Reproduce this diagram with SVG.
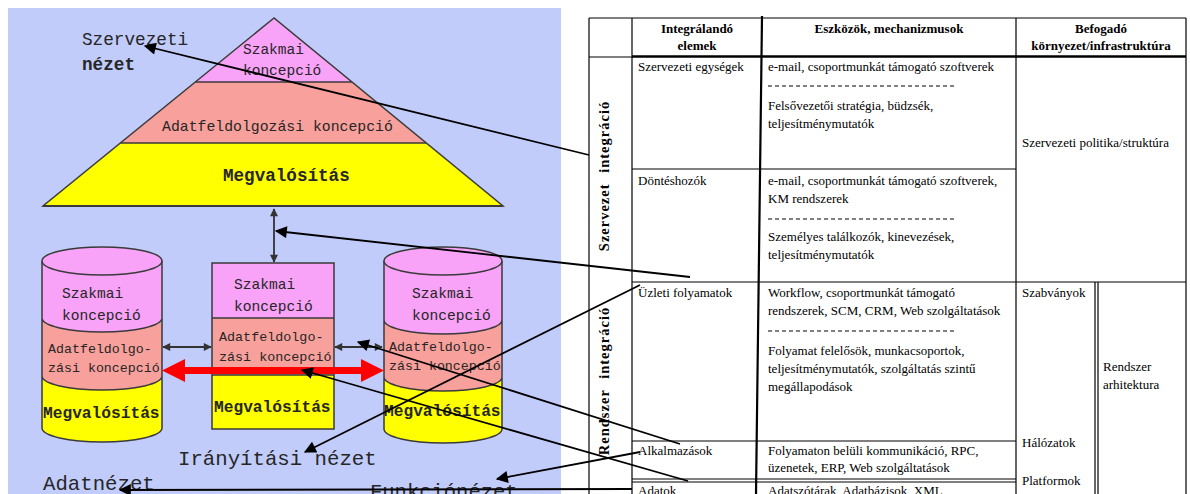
<svg xmlns="http://www.w3.org/2000/svg" width="1190" height="494" viewBox="0 0 1190 494">
  <style>
    .mono { font-family: "Liberation Mono", "DejaVu Sans Mono", monospace; fill: #262626; }
    .serif { font-family: "Liberation Serif", "Times New Roman", serif; font-size: 13px; fill: #000; }
    .hdr { font-weight: bold; text-anchor: middle; }
    .side { font-weight: bold; font-size: 14.5px; letter-spacing: 1px; word-spacing: 6px; text-anchor: middle; }
    .edge { stroke: #3a3a3a; stroke-width: 1.5; fill: none; }
    .pink { fill: #f8a2f8; }
    .salmon { fill: #f8a09b; }
    .yellow { fill: #ffff00; }
    .grid { stroke: #000; stroke-width: 1.2; fill: none; }
    .dash { stroke: #000; stroke-width: 1; stroke-dasharray: 4 3; }
    .link { stroke: #000; stroke-width: 1.8; fill: none; marker-end: url(#head); }
    .dbl { stroke: #333; stroke-width: 1.8; fill: none; marker-start: url(#tip); marker-end: url(#tip); }
  </style>
  <defs>
    <marker id="head" viewBox="0 0 10 10" refX="9" refY="5" markerUnits="userSpaceOnUse" markerWidth="16" markerHeight="12" orient="auto">
      <path d="M0,0 L10,5 L0,10 z" fill="#000"/>
    </marker>
    <marker id="tip" viewBox="0 0 10 10" refX="9" refY="5" markerUnits="userSpaceOnUse" markerWidth="9" markerHeight="8" orient="auto-start-reverse">
      <path d="M0,0 L10,5 L0,10 z" fill="#333"/>
    </marker>
  </defs>

  <rect x="0" y="0" width="1190" height="494" fill="#fff"/>
  <!-- left model panel -->
  <rect x="8" y="8" width="553" height="486" fill="#c1ccfa"/>

  <!-- table -->
  <g id="table">
    <g class="grid">
      <line x1="589" y1="18" x2="1186" y2="18"/>
      <line x1="589" y1="18" x2="589" y2="494"/>
      <line x1="632" y1="18" x2="632" y2="494"/>
      <line x1="1016" y1="18" x2="1016" y2="494"/>
      <line x1="1186" y1="18" x2="1186" y2="494"/>
      <line x1="589" y1="57" x2="632" y2="57"/>
      <line x1="632" y1="169" x2="1016" y2="169"/>
      <line x1="632" y1="282" x2="1186" y2="282"/>
      <line x1="632" y1="441" x2="1016" y2="441"/>
      <line x1="632" y1="479" x2="1016" y2="479"/>
      <line x1="632" y1="482" x2="1016" y2="482"/>
      <line x1="1095" y1="282" x2="1095" y2="494"/>
      <line x1="1098" y1="282" x2="1098" y2="494"/>
    </g>
    <line x1="632" y1="56.5" x2="1186" y2="56.5" stroke="#000" stroke-width="2.6"/>
    <line x1="762" y1="16" x2="756" y2="494" stroke="#000" stroke-width="2.2"/>

    <g class="serif">
      <text class="hdr" x="697" y="33">Integrálandó</text>
      <text class="hdr" x="697" y="50">elemek</text>
      <text class="hdr" x="889" y="33">Eszközök, mechanizmusok</text>
      <text class="hdr" x="1101" y="33">Befogadó</text>
      <text class="hdr" x="1101" y="50">környezet/infrastruktúra</text>

      <text class="side" transform="translate(609,176) rotate(-90)">Szervezet integráció</text>
      <text class="side" transform="translate(609,381) rotate(-90)">Rendszer integráció</text>

      <text x="638" y="71">Szervezeti egységek</text>
      <text x="768" y="71">e-mail, csoportmunkát támogató szoftverek</text>
      <text x="768" y="110">Felsővezetői stratégia, büdzsék,</text>
      <text x="768" y="128">teljesítménymutatók</text>
      <text x="1022" y="147">Szervezeti politika/struktúra</text>

      <text x="638" y="185">Döntéshozók</text>
      <text x="768" y="185">e-mail, csoportmunkát támogató szoftverek,</text>
      <text x="768" y="203">KM rendszerek</text>
      <text x="768" y="241">Személyes találkozók, kinevezések,</text>
      <text x="768" y="259">teljesítménymutatók</text>

      <text x="638" y="297">Üzleti folyamatok</text>
      <text x="768" y="297">Workflow, csoportmunkát támogató</text>
      <text x="768" y="315">rendszerek, SCM, CRM, Web szolgáltatások</text>
      <text x="768" y="355">Folyamat felelősök, munkacsoportok,</text>
      <text x="768" y="373">teljesítménymutatók, szolgáltatás szintű</text>
      <text x="768" y="391">megállapodások</text>
      <text x="1022" y="297">Szabványok</text>
      <text x="1103" y="371">Rendszer</text>
      <text x="1103" y="389">arhitektura</text>
      <text x="1022" y="447">Hálózatok</text>
      <text x="1022" y="485">Platformok</text>

      <text x="638" y="455">Alkalmazások</text>
      <text x="768" y="455">Folyamaton belüli kommunikáció, RPC,</text>
      <text x="768" y="472">üzenetek, ERP, Web szolgáltatások</text>

      <text x="638" y="495">Adatok</text>
      <text x="768" y="495">Adatszótárak, Adatbázisok, XML,</text>
    </g>
    <line class="dash" x1="768" y1="86" x2="954" y2="86"/>
    <line class="dash" x1="768" y1="219" x2="954" y2="219"/>
    <line class="dash" x1="768" y1="331" x2="954" y2="331"/>
  </g>

  <!-- organisational pyramid -->
  <g id="pyramid">
    <polygon class="yellow" points="274,18 43,206 503,206"/>
    <polygon class="salmon" points="274,18 120.4,143 426,143"/>
    <polygon class="pink" points="274,18 195.3,82 352,82"/>
    <polygon class="edge" points="274,18 43,206 503,206"/>
    <line class="edge" x1="195.3" y1="82" x2="352" y2="82"/>
    <line class="edge" x1="120.4" y1="143" x2="426" y2="143"/>
    <line x1="43" y1="206" x2="503" y2="206" stroke="#3a3a3a" stroke-width="2.2"/>
    <text class="mono" x="243" y="54" font-size="14.5">Szakmai</text>
    <text class="mono" x="243" y="75" font-size="14.5">koncepció</text>
    <text class="mono" x="162" y="131" font-size="14.8">Adatfeldolgozási koncepció</text>
    <text class="mono" x="223" y="181" font-size="17.6" font-weight="bold">Megvalósítás</text>
  </g>

  <!-- left cylinder -->
  <g id="cyl-left">
    <path class="yellow" d="M42,261 L42,428 A60,14 0 0 0 162,428 L162,261 Z"/>
    <path class="salmon" d="M42,261 L42,376 A60,14 0 0 0 162,376 L162,261 Z"/>
    <path class="pink" d="M42,261 L42,318 A60,14 0 0 0 162,318 L162,261 Z"/>
    <path class="edge" d="M42,318 A60,14 0 0 0 162,318 M42,376 A60,14 0 0 0 162,376 M42,261 L42,428 A60,14 0 0 0 162,428 L162,261"/>
    <ellipse class="pink" cx="102" cy="261" rx="60" ry="14"/>
    <ellipse class="edge" cx="102" cy="261" rx="60" ry="14"/>
    <text class="mono" x="62" y="298" font-size="14.6">Szakmai</text>
    <text class="mono" x="62" y="320" font-size="14.6">koncepció</text>
    <text class="mono" x="48" y="353" font-size="13.3">Adatfeldolgo-</text>
    <text class="mono" x="48" y="372" font-size="13.3">zási koncepció</text>
    <text class="mono" x="43" y="418" font-size="16.2" font-weight="bold">Megvalósítás</text>
  </g>

  <!-- middle block -->
  <g id="box-mid">
    <rect class="yellow" x="212" y="375" width="122" height="54"/>
    <rect class="salmon" x="212" y="318" width="122" height="57"/>
    <rect class="pink" x="212" y="263" width="122" height="55"/>
    <rect class="edge" x="212" y="263" width="122" height="166"/>
    <line class="edge" x1="212" y1="318" x2="334" y2="318"/>
    <line class="edge" x1="212" y1="375" x2="334" y2="375"/>
    <text class="mono" x="234" y="289" font-size="14.6">Szakmai</text>
    <text class="mono" x="234" y="311" font-size="14.6">koncepció</text>
    <text class="mono" x="219" y="341" font-size="13.4">Adatfeldolgo-</text>
    <text class="mono" x="219" y="361" font-size="13.4">zási koncepció</text>
    <text class="mono" x="214" y="412" font-size="16.2" font-weight="bold">Megvalósítás</text>
  </g>

  <!-- right cylinder -->
  <g id="cyl-right">
    <path class="yellow" d="M384,261 L384,429 A59,14 0 0 0 502,429 L502,261 Z"/>
    <path class="salmon" d="M384,261 L384,377 A59,14 0 0 0 502,377 L502,261 Z"/>
    <path class="pink" d="M384,261 L384,320 A59,14 0 0 0 502,320 L502,261 Z"/>
    <path class="edge" d="M384,320 A59,14 0 0 0 502,320 M384,377 A59,14 0 0 0 502,377 M384,261 L384,429 A59,14 0 0 0 502,429 L502,261"/>
    <ellipse class="pink" cx="443" cy="261" rx="59" ry="14"/>
    <ellipse class="edge" cx="443" cy="261" rx="59" ry="14"/>
    <text class="mono" x="412" y="298" font-size="14.6">Szakmai</text>
    <text class="mono" x="412" y="320" font-size="14.6">koncepció</text>
    <text class="mono" x="389" y="351" font-size="13.3">Adatfeldolgo-</text>
    <text class="mono" x="389" y="370" font-size="13.3">zási koncepció</text>
    <text class="mono" x="384" y="416" font-size="16.2" font-weight="bold">Megvalósítás</text>
  </g>

  <!-- view labels -->
  <g id="labels" class="mono">
    <text x="82" y="45" font-size="17.7">Szervezeti</text>
    <text x="82" y="70" font-size="17.7" font-weight="bold">nézet</text>
    <text x="178" y="465" font-size="20.7">Irányítási nézet</text>
    <text x="43" y="490" font-size="20.7">Adatnézet</text>
    <text x="370" y="498" font-size="20.5">Funkciónézet</text>
  </g>

  <!-- connectors -->
  <g id="connectors">
    <line class="dbl" x1="274" y1="209" x2="274" y2="262"/>
    <line class="dbl" x1="163" y1="347" x2="211" y2="347"/>
    <line class="dbl" x1="335" y1="347" x2="382" y2="347"/>
    <polygon fill="#ff0000" points="162,370.5 185,359 185,367 361,367 361,359 384,370.5 361,382 361,374 185,374 185,382"/>
    <line class="link" x1="589" y1="155" x2="145" y2="46"/>
    <line class="link" x1="690" y1="277" x2="276" y2="231"/>
    <line class="link" x1="640" y1="285" x2="305" y2="452"/>
    <line class="link" x1="680" y1="444" x2="358" y2="342"/>
    <line class="link" x1="688" y1="481" x2="302" y2="370"/>
    <line class="link" x1="640" y1="452" x2="497" y2="479"/>
    <line class="link" x1="632" y1="489" x2="120" y2="490"/>
  </g>
</svg>
